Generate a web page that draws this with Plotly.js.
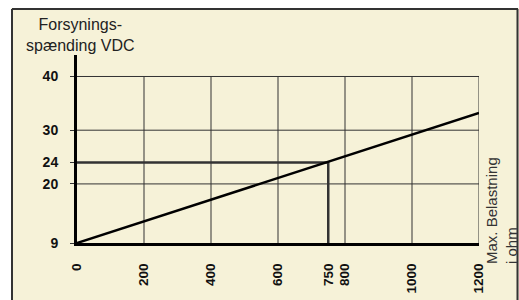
<!DOCTYPE html>
<html>
<head>
<meta charset="utf-8">
<script src="https://cdn.plot.ly/plotly-3.0.1.min.js"></script>
<style>
html,body{margin:0;padding:0;background:#fff;overflow:hidden;}
#chart{width:519px;height:300px;}
</style>
</head>
<body>
<div id="chart"></div>
<script>
// Data
const xTickVals = [0, 200, 400, 600, 750, 800, 1000, 1200];
const xTickText = ['0', '200', '400', '600', '750', '800', '1000', '1200'];
const yTickVals = [9, 20, 24, 30, 40];
const yTickText = ['9', '20', '24', '30', '40'];
const gridX = [200, 400, 600, 800, 1000, 1200];
const gridY = [20, 30, 40];
const loadX = [0, 1200];
const voltY = [9, 33.2];
const markX = [0, 750, 750];
const markY = [24, 24, 9];
const titleText = 'Forsynings-<br>spænding VDC';
const xLabelText = 'Max. Belastning<br>i ohm';

const W = 519, H = 300;
const px = v => v / W;           // pixel x -> paper
const py = v => (H - v) / H;     // pixel y -> paper

const cream = '#F6F2D8';
const gridColor = '#333';
const frameColor = '#333';
const shapes = [];
// white surround outside the cream panel
shapes.push({type:'rect', xref:'paper', yref:'paper', x0:0, x1:px(11), y0:0, y1:1,
  line:{width:0}, fillcolor:'#ffffff', layer:'above'});
shapes.push({type:'rect', xref:'paper', yref:'paper', x0:0, x1:1, y0:py(8), y1:1,
  line:{width:0}, fillcolor:'#ffffff', layer:'above'});
// frame (left, top, right edges)
shapes.push({type:'line', xref:'paper', yref:'paper', x0:px(12), x1:px(12), y0:0, y1:py(9),
  line:{color:frameColor, width:2}, layer:'above'});
shapes.push({type:'line', xref:'paper', yref:'paper', x0:px(12), x1:px(518), y0:py(9), y1:py(9),
  line:{color:frameColor, width:2}, layer:'above'});
shapes.push({type:'line', xref:'paper', yref:'paper', x0:px(517.5), x1:px(517.5), y0:0, y1:py(9),
  line:{color:frameColor, width:2}, layer:'above'});
gridX.forEach(v => shapes.push({type:'line', xref:'x', yref:'y', x0:v, x1:v, y0:9, y1:40,
  line:{color:gridColor, width:1}, layer:'below'}));
gridY.forEach(v => shapes.push({type:'line', xref:'x', yref:'y', x0:0, x1:1200, y0:v, y1:v,
  line:{color:gridColor, width:1}, layer:'below'}));

const traces = [
  {x: markX, y: markY, mode:'lines', line:{color:'#333', width:2.5}, hoverinfo:'skip'},
  {x: loadX, y: voltY, mode:'lines', line:{color:'#000', width:2.5}, hoverinfo:'skip'}
];

const layout = {
  width: W, height: H,
  margin: {l:0, r:0, t:0, b:0, pad:0},
  paper_bgcolor: cream,
  plot_bgcolor: cream,
  showlegend: false,
  font: {family:'"Liberation Sans", Arial, sans-serif', color:'#111'},
  xaxis: {
    domain:[px(77), px(479)], automargin:false,
    range:[0, 1200], showgrid:false, zeroline:false,
    showline:true, linecolor:'#000', linewidth:3,
    tickmode:'array', tickvals:xTickVals, ticktext:xTickText,
    tickangle:-90, ticks:'', ticklabelstandoff:12,
    tickfont:{size:13.5, color:'#111', weight:'bold'}
  },
  yaxis: {
    domain:[py(243), py(55)], automargin:false,
    range:[9, 44], showgrid:false, zeroline:false,
    showline:true, linecolor:'#000', linewidth:3,
    tickmode:'array', tickvals:yTickVals, ticktext:yTickText,
    ticks:'outside', ticklen:4, tickwidth:1, tickcolor:'#333', ticklabelstandoff:9,
    tickfont:{size:14, color:'#111', weight:'bold'}
  },
  shapes: shapes,
  annotations: [
    {xref:'paper', yref:'paper', x:px(80), y:py(35), xanchor:'center', yanchor:'middle',
     text:titleText, showarrow:false, align:'center',
     font:{size:16, color:'#222', family:'"Liberation Sans", Arial, sans-serif'}},
    {xref:'paper', yref:'paper', x:px(501), y:py(211), xanchor:'center', yanchor:'middle',
     text:xLabelText, showarrow:false, align:'left', textangle:-90,
     font:{size:15, color:'#333', family:'"Liberation Sans", Arial, sans-serif'}}
  ]
};

Plotly.newPlot('chart', traces, layout, {displayModeBar:false, staticPlot:true});
</script>
</body>
</html>
